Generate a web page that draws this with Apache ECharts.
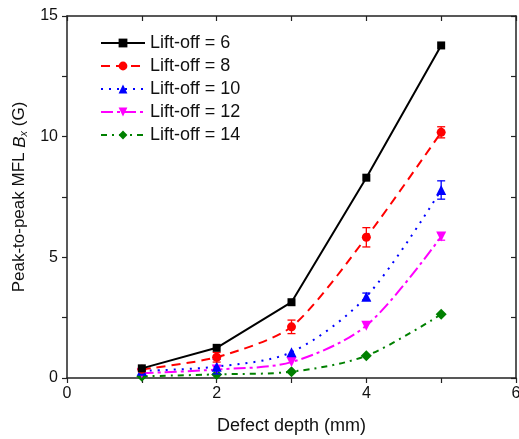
<!DOCTYPE html>
<html><head><meta charset="utf-8">
<script src="https://cdn.jsdelivr.net/npm/echarts@6/dist/echarts.min.js"></script>
<style>html,body{margin:0;padding:0;background:#fff}#c{width:519px;height:439px}</style>
</head><body><div id="c"></div>
<script>
var depths = [1, 2, 3, 4, 5];
var seriesNames = ['Lift-off = 6', 'Lift-off = 8', 'Lift-off = 10', 'Lift-off = 12', 'Lift-off = 14'];
var lift6  = [0.40, 1.25, 3.14, 8.30, 13.78];
var lift8  = [0.36, 0.86, 2.12, 5.83, 10.18];
var lift10 = [0.30, 0.47, 1.07, 3.37, 7.79];
var lift12 = [0.20, 0.35, 0.66, 2.17, 5.86];
var lift14 = [0.07, 0.15, 0.26, 0.92, 2.64];
var err6  = [0, 0, 0, 0, 0];
var err8  = [0, 0.20, 0.28, 0.40, 0.23];
var err10 = [0, 0.30, 0, 0.15, 0.38];
var err12 = [0, 0, 0, 0, 0.15];
var err14 = [0, 0, 0, 0, 0];
var xTicks = [0, 2, 4, 6];
var yTicks = [0, 5, 10, 15];

var values = [lift6, lift8, lift10, lift12, lift14];
var errs = [err6, err8, err10, err12, err14];
var colors = ['#000000', '#ff0000', '#0000ff', '#ff00ff', '#008000'];
var symbols = ['rect', 'circle', 'triangle', 'triangle', 'diamond'];
var symRot = [0, 0, 0, 180, 0];
var symSize = [8, 9, 10, 10, 11];
var dashes = ['solid', [9, 6], [2, 6], [12, 4, 3, 4], [6, 5, 2, 5]];
var smooth = [false, 0.25, 0.3, 0.3, 0.3];

var chart = echarts.init(document.getElementById('c'));
var series = [];
values.forEach(function (v, i) {
  series.push({
    name: seriesNames[i], type: 'line', xAxisIndex: 0, yAxisIndex: 0,
    data: depths.map(function (d, k) { return [d, v[k]]; }),
    smooth: smooth[i],
    symbol: symbols[i], symbolRotate: symRot[i], symbolSize: symSize[i],
    showAllSymbol: true,
    itemStyle: { color: colors[i] },
    lineStyle: { color: colors[i], width: 2, type: dashes[i] },
    z: 10 - i
  });
  var ed = [];
  depths.forEach(function (d, k) { if (errs[i][k] > 0) ed.push([d, v[k], errs[i][k]]); });
  series.push({
    type: 'custom', xAxisIndex: 0, yAxisIndex: 0, silent: true, z: 10 - i,
    data: ed,
    renderItem: function (params, api) {
      var x = api.value(0), y = api.value(1), e = api.value(2);
      var hi = api.coord([x, y + e]), lo = api.coord([x, y - e]);
      var w = 4;
      var st = { stroke: colors[i], lineWidth: 1.3 };
      return { type: 'group', children: [
        { type: 'line', shape: { x1: hi[0], y1: hi[1], x2: lo[0], y2: lo[1] }, style: st },
        { type: 'line', shape: { x1: hi[0] - w, y1: hi[1], x2: hi[0] + w, y2: hi[1] }, style: st },
        { type: 'line', shape: { x1: lo[0] - w, y1: lo[1], x2: lo[0] + w, y2: lo[1] }, style: st }
      ]};
    }
  });
});

var axisLine = { show: true, onZero: false, lineStyle: { color: '#222', width: 1.5 } };
var tickStyle = { color: '#222', width: 1.2 };
var font = 'Liberation Sans, Arial, sans-serif';

chart.setOption({
  animation: false,
  backgroundColor: '#fff',
  grid: { left: 67, top: 16, right: 3, bottom: 61, containLabel: false, outerBoundsMode: 'none' },
  legend: {
    data: seriesNames, orient: 'vertical', left: 95, top: 29,
    itemWidth: 44, itemHeight: 11, itemGap: 5,
    textStyle: { fontFamily: font, fontSize: 18, color: '#111' }
  },
  xAxis: [
    { type: 'value', min: xTicks[0], max: xTicks[xTicks.length - 1], interval: xTicks[1] - xTicks[0], position: 'bottom',
      name: 'Defect depth (mm)', nameLocation: 'middle', nameGap: 39,
      nameTextStyle: { fontFamily: font, fontSize: 18, color: '#111' },
      axisLine: axisLine, splitLine: { show: false },
      axisTick: { show: true, inside: false, length: 5, lineStyle: tickStyle },
      minorTick: { show: true, splitNumber: 2, length: 5, lineStyle: tickStyle },
      axisLabel: { fontFamily: font, fontSize: 16, color: '#111', margin: 8 } },
    { type: 'value', min: xTicks[0], max: xTicks[xTicks.length - 1], interval: 1, position: 'top',
      axisLine: axisLine, splitLine: { show: false },
      axisTick: { show: true, inside: true, length: 5, lineStyle: tickStyle },
      axisLabel: { show: false } }
  ],
  yAxis: [
    { type: 'value', min: yTicks[0], max: yTicks[yTicks.length - 1], interval: yTicks[1] - yTicks[0], position: 'left',
      name: '{a|Peak-to-peak MFL }{b|B}{c|x}{a| (G)}', nameLocation: 'middle', nameGap: 33, nameRotate: 90,
      nameTextStyle: { rich: {
        a: { fontFamily: font, fontSize: 17, color: '#111' },
        b: { fontFamily: font, fontSize: 17, color: '#111', fontStyle: 'italic' },
        c: { fontFamily: font, fontSize: 11, color: '#111', fontStyle: 'italic', verticalAlign: 'bottom', padding: [8, 0, 0, 0] }
      } },
      axisLine: axisLine, splitLine: { show: false },
      axisTick: { show: true, inside: false, length: 5, lineStyle: tickStyle },
      minorTick: { show: true, splitNumber: 2, length: 5, lineStyle: tickStyle },
      axisLabel: { fontFamily: font, fontSize: 16, color: '#111', margin: 9 } },
    { type: 'value', min: yTicks[0], max: yTicks[yTicks.length - 1], interval: 2.5, position: 'right',
      axisLine: axisLine, splitLine: { show: false },
      axisTick: { show: true, inside: true, length: 5, lineStyle: tickStyle },
      axisLabel: { show: false } }
  ],
  series: series
});
</script></body></html>
